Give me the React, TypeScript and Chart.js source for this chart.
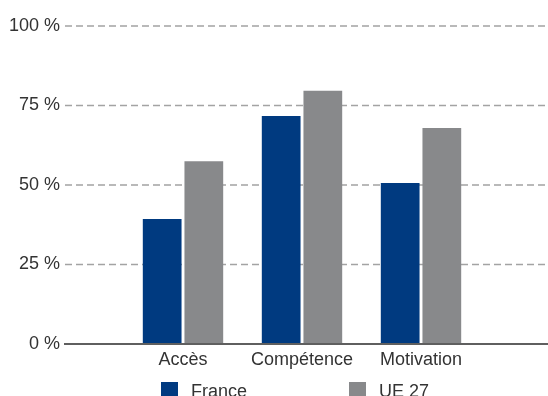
import React, { useEffect, useRef } from "react";
import { Chart, registerables } from "chart.js";

Chart.register(...registerables);

const categories = ["", "Accès", "Compétence", "Motivation", ""];
const franceValues = [null, 39.3, 71.7, 50.6, null];
const ue27Values = [null, 57.5, 79.6, 67.9, null];
const seriesNames = ["France", "UE 27"];
const yTickValues = [0, 25, 50, 75, 100];

const FONT = "'Liberation Sans', Arial, sans-serif";
const TEXT = "#333333";
const BLUE = "#003a80";
const GREY = "#88898b";

const gridPlugin = {
  id: "customGrid",
  beforeDatasetsDraw(chart: any) {
    const { ctx, chartArea, scales } = chart;
    ctx.save();
    ctx.strokeStyle = "#a3a3a3";
    ctx.lineWidth = 1.5;
    ctx.setLineDash([7, 4]);
    yTickValues.forEach((v) => {
      if (v === 0) return;
      const y = scales.y.getPixelForValue(v);
      ctx.beginPath();
      ctx.moveTo(chartArea.left + 1, y);
      ctx.lineTo(chart.width, y);
      ctx.stroke();
    });
    ctx.restore();
  },
  afterDatasetsDraw(chart: any) {
    const { ctx, chartArea, scales } = chart;
    const y = scales.y.getPixelForValue(0);
    ctx.save();
    ctx.strokeStyle = "#5f5f5f";
    ctx.lineWidth = 2;
    ctx.beginPath();
    ctx.moveTo(chartArea.left, y);
    ctx.lineTo(chart.width, y);
    ctx.stroke();
    ctx.restore();
  },
  afterDraw(chart: any) {
    const { ctx } = chart;
    const items = [
      { x: 161, textX: 191 },
      { x: 349, textX: 379 },
    ];
    ctx.save();
    ctx.font = `18px ${FONT}`;
    ctx.textBaseline = "alphabetic";
    ctx.textAlign = "left";
    chart.data.datasets.forEach((ds: any, i: number) => {
      const it = items[i];
      ctx.fillStyle = ds.backgroundColor;
      ctx.fillRect(it.x, 382, 17, 17);
      ctx.fillStyle = TEXT;
      ctx.fillText(ds.label, it.textX, 397);
    });
    ctx.restore();
  },
};

export default function App() {
  const ref = useRef<HTMLCanvasElement | null>(null);
  useEffect(() => {
    if (!ref.current) return;
    const chart = new Chart(ref.current, {
      type: "bar",
      data: {
        labels: categories,
        datasets: [
          {
            label: seriesNames[0],
            data: franceValues,
            backgroundColor: BLUE,
            categoryPercentage: 0.7,
            barPercentage: 0.93,
          },
          {
            label: seriesNames[1],
            data: ue27Values,
            backgroundColor: GREY,
            categoryPercentage: 0.7,
            barPercentage: 0.93,
          },
        ],
      },
      options: {
        animation: false,
        responsive: false,
        devicePixelRatio: 1,
        layout: { padding: { top: 26, right: 8, left: 0, bottom: 0 } },
        plugins: {
          legend: { display: false },
          tooltip: { enabled: false },
        },
        scales: {
          x: {
            offset: false,
            grid: { display: false, drawTicks: false },
            border: { display: false },
            ticks: {
              autoSkip: false,
              maxRotation: 0,
              padding: 5,
              color: TEXT,
              font: { family: FONT, size: 18 },
            },
            afterFit(scale: any) {
              scale.height = 52;
            },
          },
          y: {
            min: 0,
            max: 100,
            afterBuildTicks(scale: any) {
              scale.ticks = yTickValues.map((v) => ({ value: v }));
            },
            grid: { display: false, drawTicks: false },
            border: { display: false },
            ticks: {
              padding: 4,
              color: TEXT,
              font: { family: FONT, size: 18 },
              callback: (v: any) => `${v} %`,
            },
            afterFit(scale: any) {
              scale.width = 64;
            },
          },
        },
      },
      plugins: [gridPlugin],
    });
    return () => chart.destroy();
  }, []);
  return (
    <div style={{ position: "fixed", left: 0, top: 0, width: 548, height: 396, overflow: "hidden" }}>
      <canvas ref={ref} width={548} height={396} style={{ display: "block" }} />
    </div>
  );
}
